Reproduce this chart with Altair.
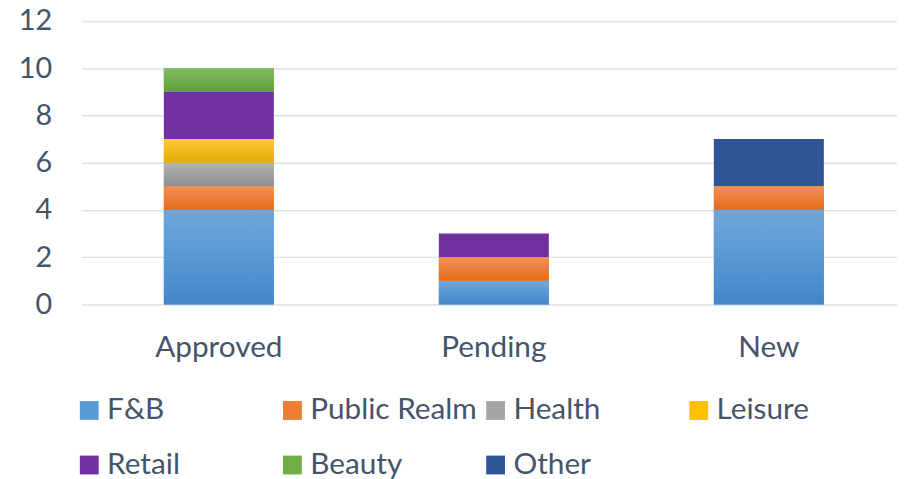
import altair as alt
import pandas as pd

statuses = ["Approved", "Pending", "New"]
categories = ["F&B", "Public Realm", "Health", "Leisure", "Retail", "Beauty", "Other"]
approved = [4, 1, 1, 1, 2, 1, 0]
pending = [1, 1, 0, 0, 1, 0, 0]
new = [4, 1, 0, 0, 0, 0, 2]
colors = ["#5B9BD5", "#ED7D31", "#A5A5A5", "#FFC000", "#7030A0", "#70AD47", "#2F5597"]
grad_top = ["#70A7DC", "#F39056", "#B3B3B3", "#FFC93F", None, "#82BC64", None]
grad_bottom = ["#4387C9", "#E66C1A", "#8F8F8F", "#E4AC00", None, "#5E9E36", None]

rows = []
for status, vals in zip(statuses, [approved, pending, new]):
    for i, (cat, v) in enumerate(zip(categories, vals)):
        rows.append({"status": status, "category": cat, "idx": i, "value": v})
df = pd.DataFrame(rows)

FONT = "Lato"
TXT = "#44546A"

base = (
    alt.Chart(df)
    .transform_filter("datum.value > 0")
    .transform_stack(stack="value", groupby=["status"],
                     sort=[alt.SortField("idx", "ascending")], as_=["y0", "y1"])
)

x_enc = alt.X("status:N", sort=statuses,
              scale=alt.Scale(paddingInner=0.6, paddingOuter=0.283, align=0.53),
              axis=alt.Axis(title=None, labelAngle=0, domain=False, ticks=False,
                            labelFontSize=30, labelFont=FONT, labelColor=TXT,
                            labelPadding=29, grid=False))
y_enc = alt.Y("y0:Q", scale=alt.Scale(domain=[0, 12], nice=False),
              axis=alt.Axis(title=None, values=[0, 2, 4, 6, 8, 10, 12], domain=False,
                            ticks=False, labelFontSize=29, labelFont=FONT,
                            labelColor=TXT, labelPadding=30, gridColor="#DDE2E9",
                            gridWidth=1.5))

bars = base.mark_bar().encode(
    x=x_enc,
    y=y_enc,
    y2="y1:Q",
    color=alt.Color("category:N",
                    scale=alt.Scale(domain=categories, range=colors),
                    legend=alt.Legend(orient="none", legendX=-7, legendY=378,
                                      direction="horizontal", columns=4,
                                      gridAlign="all", symbolType="square",
                                      symbolSize=361, symbolStrokeWidth=0,
                                      labelFontSize=30, labelFont=FONT,
                                      labelColor=TXT, labelOffset=3,
                                      columnPadding=3, rowPadding=25,
                                      title=None, padding=0, labelLimit=400)),
)

layers = [bars]
for cat, top, bot in zip(categories, grad_top, grad_bottom):
    if top is None:
        continue
    grad = alt.LinearGradient(
        gradient="linear",
        stops=[alt.GradientStop(color=top, offset=0),
               alt.GradientStop(color=bot, offset=1)],
        x1=0, x2=0, y1=0, y2=1,
    )
    layers.append(
        base.transform_filter(alt.datum.category == cat)
        .mark_bar(color=grad)
        .encode(x=x_enc, y=y_enc, y2="y1:Q")
    )

chart = (
    alt.layer(*layers)
    .properties(width=823, height=286,
                padding={"left": 74, "top": 11, "right": 0, "bottom": 174},
                autosize=alt.AutoSizeParams(type="none"),
                background="white")
    .configure_view(stroke=None)
)

chart.save("out.html", embed_options={"renderer": "svg", "actions": False})
